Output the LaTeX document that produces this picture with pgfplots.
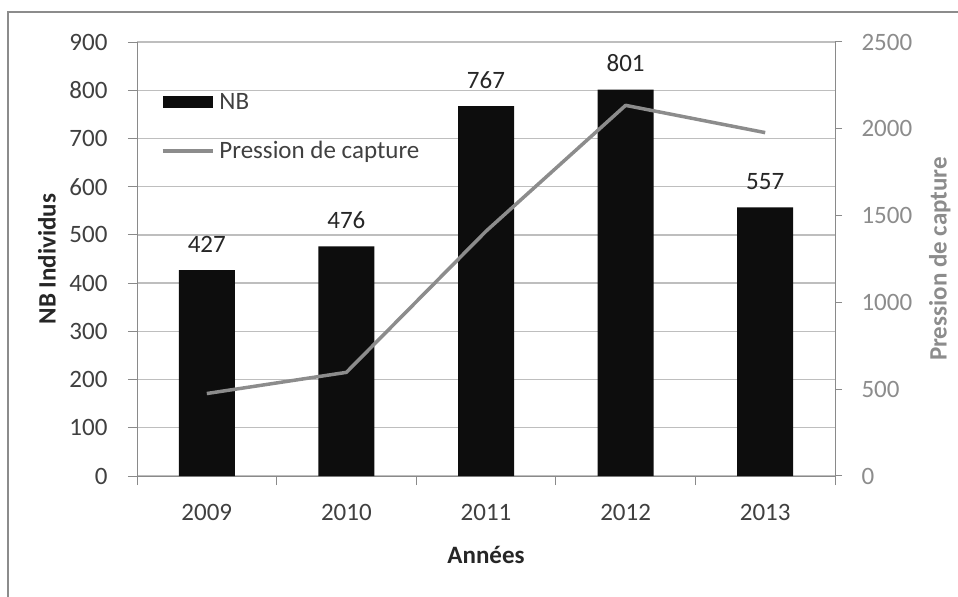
\documentclass[border=0pt]{standalone}
\usepackage{fontspec}
\setmainfont{Carlito}
\usepackage{pgfplots}
\pgfplotsset{compat=1.18}

\definecolor{barblack}{HTML}{0D0D0D}
\definecolor{linegray}{HTML}{8C8C8C}
\definecolor{gridgray}{HTML}{BEBEBE}
\definecolor{axisgray}{HTML}{8A8A8A}
\definecolor{framegray}{HTML}{8C8C8C}
\definecolor{ticktext}{HTML}{404040}
\definecolor{righttext}{HTML}{8C8C8C}
\definecolor{titletext}{HTML}{262626}

\newcommand{\chartfont}{\fontsize{25bp}{30bp}\selectfont}

\begin{document}
\begin{tikzpicture}
\useasboundingbox (0bp,0bp) rectangle (958bp,597bp);
% outer frame (left and top edges)
\draw[framegray, line width=1.5bp] (8bp,0bp) -- (8bp,585bp) -- (958bp,585bp);

% bars: number of individuals (left axis)
\begin{axis}[
  at={(137bp,121bp)}, anchor=south west,
  scale only axis, width=698bp, height=434bp,
  xmin=-0.5, xmax=4.5, ymin=0, ymax=900,
  axis lines*=left,
  axis line style={axisgray, line width=1bp},
  xtick={-0.5,0.5,1.5,2.5,3.5,4.5}, xticklabel=\relax,
  extra x ticks={0,1,2,3,4},
  extra x tick labels={2009,2010,2011,2012,2013},
  extra x tick style={major tick length=0pt},
  ytick={0,100,...,900},
  tick align=outside, major tick length=9bp,
  tick style={axisgray, line width=1bp},
  ymajorgrids, grid style={gridgray, line width=1.3bp},
  /pgf/number format/assume math mode=true,
  tick label style={font=\chartfont, text=ticktext},
  xticklabel style={yshift=-25bp},
  yticklabel style={xshift=-17bp},
  ylabel={\bfseries NB Individus},
  ylabel style={font=\chartfont, text=titletext, at={(axis description cs:-0.129,0.5)}, anchor=center},
  xlabel={\bfseries Années},
  xlabel style={font=\chartfont, text=titletext, at={(axis description cs:0.5,-0.177)}, anchor=center, yshift=-2bp},
  legend cell align=left,
  legend style={at={(axis description cs:0.034,0.883)}, anchor=north west,
    draw=none, fill=none, font=\chartfont, text=ticktext, inner sep=0pt,
    row sep=31bp, nodes={inner sep=0pt},
    /tikz/every odd column/.append style={column sep=5bp}},
]
\addplot[ybar, bar width=56bp, fill=barblack, draw=none,
  legend image code/.code={\fill[barblack] (0bp,-6bp) rectangle (50bp,6bp);},
  nodes near coords,
  every node near coord/.append style={font=\chartfont, text=titletext, anchor=base, yshift=18bp, inner sep=0pt}]
  coordinates {(0,427) (1,476) (2,767) (3,801) (4,557)};
\addlegendentry{NB}
\addlegendimage{legend image code/.code={\draw[linegray, line width=3.5bp] (0bp,0bp) -- (50bp,0bp);}}
\addlegendentry{Pression de capture}
\end{axis}

% line: capture pressure (right axis)
\begin{axis}[
  at={(137bp,121bp)}, anchor=south west,
  scale only axis, width=698bp, height=434bp,
  xmin=-0.5, xmax=4.5, ymin=0, ymax=2500,
  axis x line=none, axis y line*=right,
  axis line style={axisgray, line width=1bp},
  ytick={0,500,...,2500},
  tick align=outside, major tick length=7bp,
  tick style={axisgray, line width=1bp},
  /pgf/number format/assume math mode=true,
  /pgf/number format/1000 sep={},
  tick label style={font=\chartfont, text=righttext},
  yticklabel style={xshift=16bp},
  ylabel={\bfseries Pression de capture},
  ylabel style={font=\chartfont, text=righttext, at={(axis description cs:1.150,0.5)}, anchor=center},
]
\addplot[linegray, line width=3.5bp, line join=round, mark=none]
  coordinates {(0,475) (1,597) (2,1410) (3,2135) (4,1978)};
\end{axis}
\end{tikzpicture}
\end{document}
